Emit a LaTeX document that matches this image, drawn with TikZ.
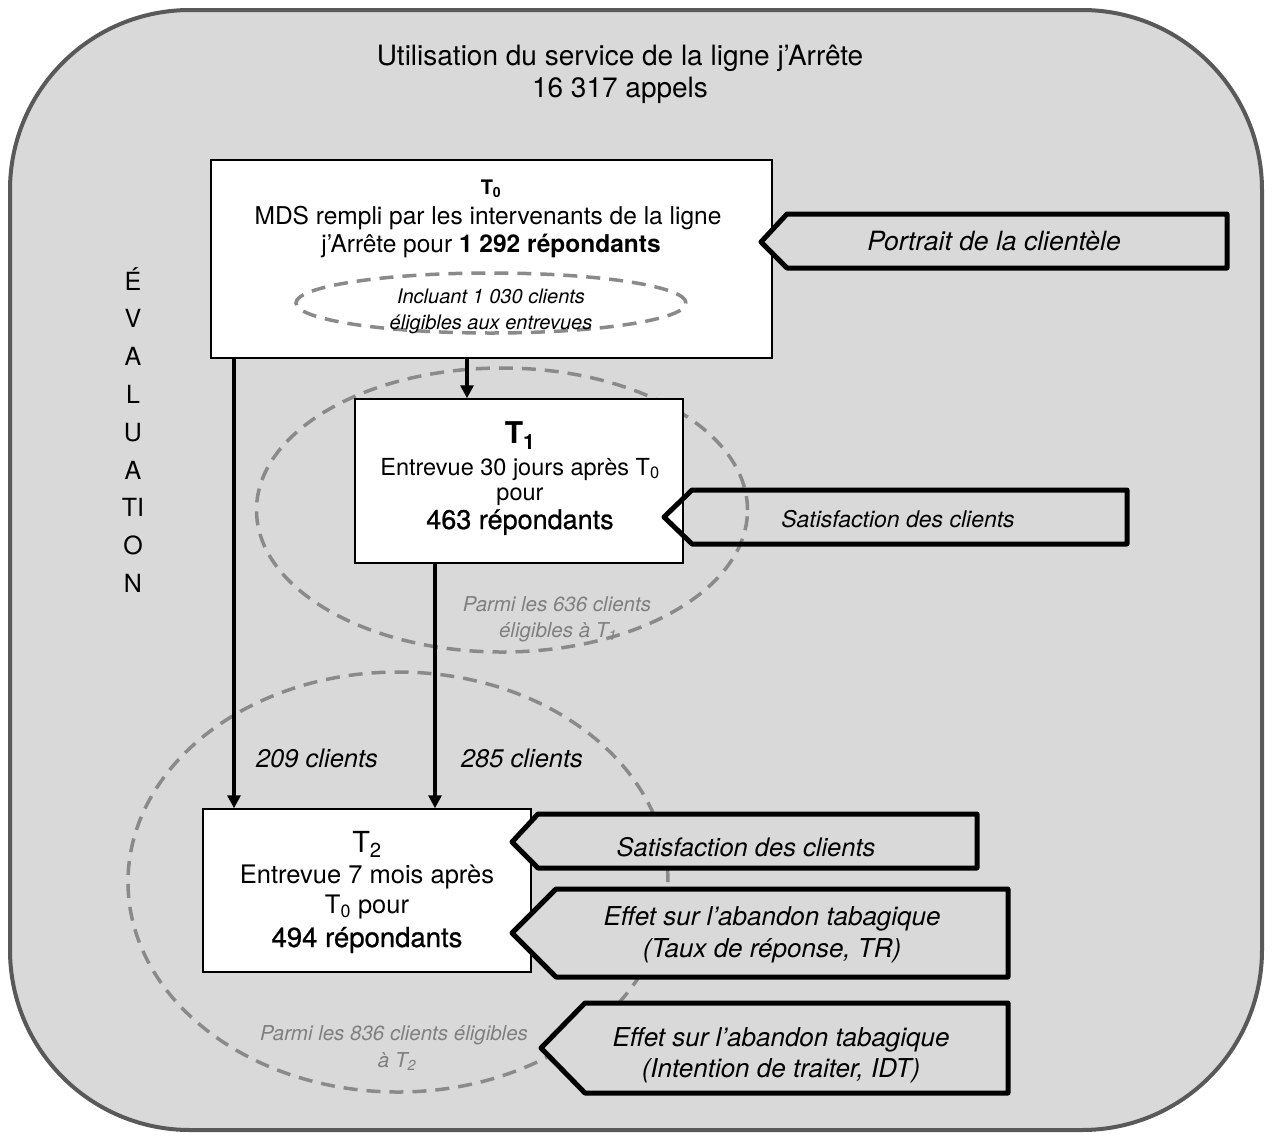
\documentclass[tikz,border=0pt]{standalone}
\usepackage{fontspec}
\setmainfont{TeX Gyre Heros}
\newfontfamily\medfont[FakeBold=0.8]{TeX Gyre Heros}
\usetikzlibrary{arrows.meta,shapes.geometric}
\definecolor{bgfill}{HTML}{D9D9D9}
\definecolor{framecol}{HTML}{595959}
\definecolor{dashcol}{HTML}{8A8A8A}
\definecolor{graytxt}{HTML}{7F7F7F}
\newcommand\fsz[1]{\fontsize{#1}{#1}\selectfont}
\newcommand\tagpath[7]{\draw[tagline,#7] (#1,#2) -- (#3,#5) -- (#4,#5) -- (#4,#6) -- (#3,#6) -- cycle;}
\begin{document}
\begin{tikzpicture}[x=1pt,y=-1pt,
  boxst/.style={draw=black, line width=1.5pt, fill=white, inner sep=0pt, rectangle},
  ellst/.style={draw=dashcol, line width=3.5pt, dash pattern=on 14pt off 9pt, ellipse, inner sep=0pt},
  tagline/.style={draw=black, line width=5pt, line join=round},
  txt/.style={anchor=base, inner sep=0pt, text=black},
  arr/.style={draw=black, line width=3.2pt, -{Triangle[length=13pt,width=13pt]}}]
\useasboundingbox (0,0) rectangle (1272,1136);
% outer frame
\draw[draw=framecol, line width=4pt, fill=bgfill, rounded corners=180pt] (10,10) rectangle (1262,1130);
% title
\node[txt, font=\fsz{28}] (title1) at (620,65) {Utilisation du service de la ligne j’Arrête};
\node[txt, font=\fsz{28}] (title2) at (620,97) {16 317 appels};
% vertical word
\foreach \l [count=\i] in {É,V,A,L,U,A,TI,O,N}
  \node[txt, font=\fsz{25}] (ev\i) at (133,{290+37.8*(\i-1)}) {\l};
% T2 group
\node[ellst, minimum width=540pt, minimum height=420pt] (e2) at (398,882) {};
\node[boxst, minimum width=328pt, minimum height=163pt] (t2) at (367,890.5) {};
\tagpath{512}{842}{538}{977}{814}{868}{fill=bgfill}
\tagpath{512}{933}{556}{1008}{889}{977}{fill=bgfill}
\tagpath{541}{1048}{585}{1008}{1003}{1093}{fill=bgfill}
% T1 group
\node[ellst, minimum width=491pt, minimum height=284pt] (e1) at (502,510) {};
\node[boxst, minimum width=328pt, minimum height=164pt] (t1) at (519,481) {};
\tagpath{664}{517}{692}{1127}{490}{544}{}
% T0 group
\node[boxst, minimum width=561pt, minimum height=198pt] (t0) at (491.5,259) {};
\node[ellst, minimum width=390pt, minimum height=60pt] (e0) at (491,303) {};
\tagpath{761}{242}{787}{1227}{214}{268}{fill=bgfill}
% arrows
\coordinate (xa) at (234,0);
\coordinate (xb) at (467,0);
\coordinate (xc) at (435,0);
\draw[arr] (xa |- t0.south) -- (xa |- t2.north);
\draw[arr] (xb |- t0.south) -- (xb |- t1.north);
\draw[arr] (xc |- t1.south) -- (xc |- t2.north);
% T0 texts
\node[txt, font=\fsz{20}\bfseries] (t0a) at (491,194) {T\textsubscript{0}};
\node[txt, font=\fsz{24.5}] (t0b) at (488,224) {MDS rempli par les intervenants de la ligne};
\node[txt, font=\fsz{24.5}] (t0c) at (491,252) {j’Arrête pour \textbf{1 292 répondants}};
\node[txt, font=\fsz{20}\itshape] (t0d) at (491,303) {Incluant 1 030 clients};
\node[txt, font=\fsz{20}\itshape] (t0e) at (491,329) {éligibles aux entrevues};
% T1 texts
\node[txt, font=\fsz{30}\bfseries] (t1a) at (520,443) {T\textsubscript{1}};
\node[txt, font=\fsz{23.5}] (t1b) at (520,475) {Entrevue 30 jours après T\textsubscript{0}};
\node[txt, font=\fsz{23.5}] (t1c) at (520,500) {pour};
\node[txt, font=\fsz{27}\medfont] (t1d) at (520,529) {463 répondants};
% T2 texts
\node[txt, font=\fsz{29}] (t2a) at (367,852) {T\textsubscript{2}};
\node[txt, font=\fsz{25.5}] (t2b) at (367,883) {Entrevue 7 mois après};
\node[txt, font=\fsz{25.5}] (t2c) at (367,913) {T\textsubscript{0} pour};
\node[txt, font=\fsz{27.5}\medfont] (t2d) at (367,947) {494 répondants};
% gray notes
\node[txt, text=graytxt, font=\fsz{20.5}\itshape] (g1) at (557,611) {Parmi les 636 clients};
\node[txt, text=graytxt, font=\fsz{20.5}\itshape] (g2) at (558,637) {éligibles à T\textsubscript{1}};
\node[txt, text=graytxt, font=\fsz{20.5}\itshape] (g3) at (394,1040) {Parmi les 836 clients éligibles};
\node[txt, text=graytxt, font=\fsz{20.5}\itshape] (g4) at (397,1067) {à T\textsubscript{2}};
% counts
\node[txt, font=\fsz{25.5}\itshape] (c1) at (317,767) {209 clients};
\node[txt, font=\fsz{25.5}\itshape] (c2) at (522,767) {285 clients};
% tag texts
\node[txt, font=\fsz{26.5}\itshape] (tg1) at (994,250) {Portrait de la clientèle};
\node[txt, font=\fsz{23}\itshape] (tg2) at (898,527) {Satisfaction des clients};
\node[txt, font=\fsz{25.5}\itshape] (tg3) at (746,856) {Satisfaction des clients};
\node[txt, font=\fsz{26}\itshape] (tg4a) at (772,925) {Effet sur l’abandon tabagique};
\node[txt, font=\fsz{26}\itshape] (tg4b) at (772,957) {(Taux de réponse, TR)};
\node[txt, font=\fsz{26}\itshape] (tg5a) at (781,1046) {Effet sur l’abandon tabagique};
\node[txt, font=\fsz{26}\itshape] (tg5b) at (781,1077) {(Intention de traiter, IDT)};
\end{tikzpicture}
\end{document}
